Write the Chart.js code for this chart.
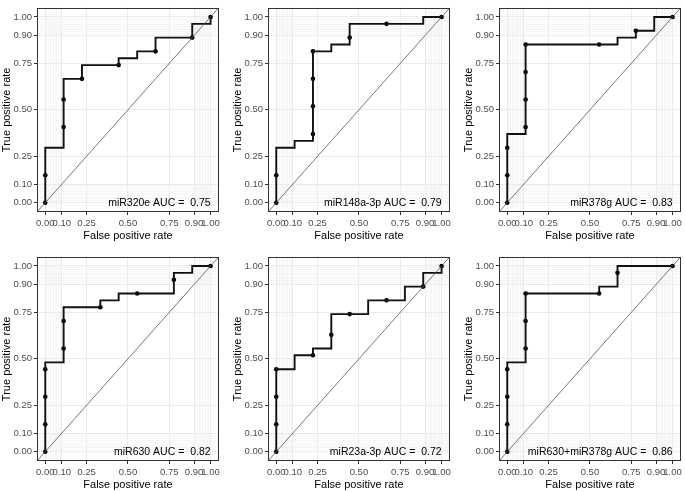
<!DOCTYPE html>
<html>
<head>
<meta charset="utf-8">
<script src="https://cdn.jsdelivr.net/npm/chart.js@4.4.1/dist/chart.umd.min.js"></script>
<style>
  html, body { margin: 0; padding: 0; background: #fff; overflow: hidden; }
  #wrap { position: relative; width: 685px; height: 492px; }
  canvas { position: absolute; }
</style>
</head>
<body>
<div id="wrap">
  <canvas id="roc1" width="223" height="244" style="left:0px;top:0px"></canvas>
  <canvas id="roc2" width="223" height="244" style="left:231px;top:0px"></canvas>
  <canvas id="roc3" width="223" height="244" style="left:462px;top:0px"></canvas>
  <canvas id="roc4" width="223" height="244" style="left:0px;top:249px"></canvas>
  <canvas id="roc5" width="223" height="244" style="left:231px;top:249px"></canvas>
  <canvas id="roc6" width="223" height="244" style="left:462px;top:249px"></canvas>
</div>
<script>
// marker names and AUC shown in each panel
var markerNames = ['miR320e', 'miR148a-3p', 'miR378g', 'miR630', 'miR23a-3p', 'miR630+miR378g'];
var aucValues = [0.75, 0.79, 0.83, 0.82, 0.72, 0.86];

// axis breaks (plotROC style)
var majorBreaks = [0, 0.1, 0.25, 0.5, 0.75, 0.9, 1];
var minorBreaks = [0, 0.01, 0.02, 0.03, 0.04, 0.05, 0.06, 0.07, 0.08, 0.09, 0.1,
                   0.9, 0.91, 0.92, 0.93, 0.94, 0.95, 0.96, 0.97, 0.98, 0.99, 1];

// ROC step curves (false positive rate / true positive rate)
var fpr320e = [0, 0, 0.111, 0.111, 0.222, 0.222, 0.444, 0.444, 0.556, 0.556, 0.667, 0.667, 0.889, 0.889, 1, 1];
var tpr320e = [0, 0.296, 0.296, 0.667, 0.667, 0.741, 0.741, 0.778, 0.778, 0.815, 0.815, 0.889, 0.889, 0.963, 0.963, 1];
var cutFpr320e = [0, 0, 0.111, 0.111, 0.222, 0.444, 0.667, 0.889, 1];
var cutTpr320e = [0, 0.148, 0.407, 0.556, 0.667, 0.741, 0.815, 0.889, 1];

var fpr148a = [0, 0, 0.111, 0.111, 0.222, 0.222, 0.333, 0.333, 0.444, 0.444, 0.889, 0.889, 1];
var tpr148a = [0, 0.296, 0.296, 0.333, 0.333, 0.815, 0.815, 0.852, 0.852, 0.963, 0.963, 1, 1];
var cutFpr148a = [0, 0, 0.222, 0.222, 0.222, 0.222, 0.444, 0.667, 1];
var cutTpr148a = [0, 0.148, 0.370, 0.519, 0.667, 0.815, 0.889, 0.963, 1];

var fpr378g = [0, 0, 0.111, 0.111, 0.667, 0.667, 0.778, 0.778, 0.889, 0.889, 1];
var tpr378g = [0, 0.370, 0.370, 0.852, 0.852, 0.889, 0.889, 0.926, 0.926, 1, 1];
var cutFpr378g = [0, 0, 0, 0.111, 0.111, 0.111, 0.111, 0.556, 0.778, 1];
var cutTpr378g = [0, 0.148, 0.296, 0.407, 0.556, 0.704, 0.852, 0.852, 0.926, 1];

var fpr630 = [0, 0, 0.111, 0.111, 0.333, 0.333, 0.444, 0.444, 0.778, 0.778, 0.889, 0.889, 1];
var tpr630 = [0, 0.481, 0.481, 0.778, 0.778, 0.815, 0.815, 0.852, 0.852, 0.963, 0.963, 1, 1];
var cutFpr630 = [0, 0, 0, 0, 0.111, 0.111, 0.333, 0.556, 0.778, 1];
var cutTpr630 = [0, 0.148, 0.296, 0.444, 0.556, 0.704, 0.778, 0.852, 0.926, 1];

var fpr23a = [0, 0, 0.111, 0.111, 0.222, 0.222, 0.333, 0.333, 0.556, 0.556, 0.778, 0.778, 0.889, 0.889, 1, 1];
var tpr23a = [0, 0.444, 0.444, 0.519, 0.519, 0.556, 0.556, 0.741, 0.741, 0.815, 0.815, 0.889, 0.889, 0.963, 0.963, 1];
var cutFpr23a = [0, 0, 0, 0, 0.222, 0.333, 0.444, 0.667, 0.889, 1];
var cutTpr23a = [0, 0.148, 0.296, 0.444, 0.519, 0.630, 0.741, 0.815, 0.889, 1];

var fprCombo = [0, 0, 0.111, 0.111, 0.556, 0.556, 0.667, 0.667, 1];
var tprCombo = [0, 0.481, 0.481, 0.852, 0.852, 0.889, 0.889, 1, 1];
var cutFprCombo = [0, 0, 0, 0, 0.111, 0.111, 0.111, 0.556, 0.667, 1];
var cutTprCombo = [0, 0.148, 0.296, 0.444, 0.556, 0.704, 0.852, 0.852, 0.963, 1];

// chance line
var diagX = [-0.05, 1.05];
var diagY = [-0.05, 1.05];

var curvesX = [fpr320e, fpr148a, fpr378g, fpr630, fpr23a, fprCombo];
var curvesY = [tpr320e, tpr148a, tpr378g, tpr630, tpr23a, tprCombo];
var cutsX = [cutFpr320e, cutFpr148a, cutFpr378g, cutFpr630, cutFpr23a, cutFprCombo];
var cutsY = [cutTpr320e, cutTpr148a, cutTpr378g, cutTpr630, cutTpr23a, cutTprCombo];

Chart.defaults.font.family = '"Liberation Sans", Arial, sans-serif';

function pairs(xs, ys) {
	return xs.map(function(x, i) { return {x: x, y: ys[i]}; });
}

function isMajor(v) {
	return majorBreaks.some(function(b) { return Math.abs(b - v) < 1e-9; });
}

var allBreaks = minorBreaks.concat(majorBreaks).filter(function(v, i, arr) {
	return arr.findIndex(function(w) { return Math.abs(w - v) < 1e-9; }) === i;
}).sort(function(a, b) { return a - b; });

function axisOptions(title, horizontal) {
	return {
		type: 'linear',
		min: -0.05,
		max: 1.05,
		afterBuildTicks: function(scale) {
			scale.ticks = allBreaks.map(function(v) { return {value: v}; });
		},
		afterFit: function(scale) {
			if (horizontal) scale.height = 32; else scale.width = 37;
		},
		grid: {
			color: function(c) { return isMajor(c.tick.value) ? '#EBEBEB' : '#F0F0F0'; },
			lineWidth: function(c) { return isMajor(c.tick.value) ? 1 : 0.6; },
			tickColor: function(c) { return isMajor(c.tick.value) ? '#333333' : 'rgba(0,0,0,0)'; },
			tickLength: 3,
			tickWidth: 1
		},
		border: { display: false },
		ticks: {
			autoSkip: false,
			maxRotation: 0,
			minRotation: 0,
			padding: horizontal ? 3 : 2,
			color: '#4D4D4D',
			font: { size: 9.5 },
			callback: function(v) { return isMajor(v) ? v.toFixed(2) : ''; }
		},
		title: {
			display: true,
			text: title,
			color: '#000',
			font: { size: 11 },
			padding: {top: 0, bottom: 1}
		}
	};
}

var panelFrame = {
	id: 'panelFrame',
	afterDatasetsDraw: function(chart, args, opts) {
		var c = chart.ctx;
		var xs = chart.scales.x, ys = chart.scales.y;
		c.save();
		c.fillStyle = '#000';
		c.font = '10.5px "Liberation Sans", Arial, sans-serif';
		c.textAlign = 'right';
		c.textBaseline = 'middle';
		c.fillText(opts.label, xs.getPixelForValue(1), ys.getPixelForValue(0));
		c.restore();
	},
	afterDraw: function(chart) {
		var a = chart.chartArea, c = chart.ctx;
		c.save();
		c.strokeStyle = '#333333';
		c.lineWidth = 1;
		c.strokeRect(Math.round(a.left) + 0.5, Math.round(a.top) + 0.5,
			Math.round(a.right - a.left) - 1, Math.round(a.bottom - a.top) - 1);
		c.restore();
	}
};

function createRoc(i) {
	var ctx = document.getElementById('roc' + (i + 1)).getContext('2d');
	return new Chart(ctx, {
		type: 'scatter',
		data: {
			datasets: [{
				data: pairs(diagX, diagY),
				showLine: true,
				borderColor: '#555555',
				borderWidth: 0.8,
				pointRadius: 0
			}, {
				data: pairs(curvesX[i], curvesY[i]),
				showLine: true,
				borderColor: '#111111',
				borderWidth: 1.9,
				pointRadius: 0
			}, {
				data: pairs(cutsX[i], cutsY[i]),
				showLine: false,
				pointRadius: 2.3,
				pointBackgroundColor: '#000',
				pointBorderWidth: 0
			}]
		},
		options: {
			responsive: false,
			animation: false,
			events: [],
			layout: { padding: {top: 2, right: 2, bottom: 0, left: 0} },
			plugins: {
				legend: { display: false },
				tooltip: { enabled: false },
				panelFrame: { label: markerNames[i] + ' AUC =  ' + aucValues[i].toFixed(2) }
			},
			scales: {
				x: axisOptions('False positive rate', true),
				y: axisOptions('True positive rate', false)
			}
		},
		plugins: [panelFrame]
	});
}

for (var i = 0; i < 6; i++) {
	createRoc(i);
}
</script>
</body>
</html>
